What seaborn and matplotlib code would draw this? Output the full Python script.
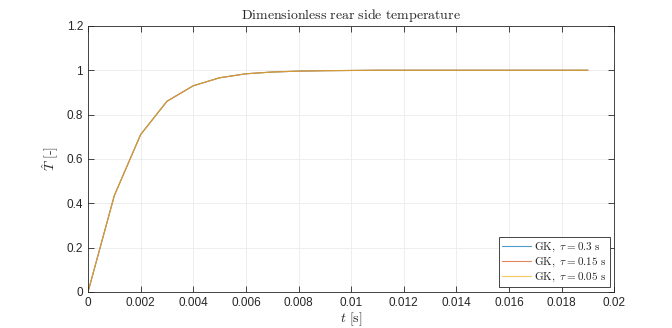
import numpy as np
import pandas as pd
import seaborn as sns
import matplotlib.pyplot as plt

# time samples and dimensionless rear side temperature
t = [0.000, 0.001, 0.002, 0.003, 0.004, 0.005, 0.006, 0.007, 0.008, 0.009,
     0.010, 0.011, 0.012, 0.013, 0.014, 0.015, 0.016, 0.017, 0.018, 0.019]
T_03 = [0.0, 0.435, 0.71, 0.86, 0.93, 0.966, 0.984, 0.992, 0.996, 0.998,
        0.999, 1.0, 1.0, 1.0, 1.0, 1.0, 1.0, 1.0, 1.0, 1.0]
T_015 = [0.0, 0.435, 0.71, 0.86, 0.93, 0.966, 0.984, 0.992, 0.996, 0.998,
         0.999, 1.0, 1.0, 1.0, 1.0, 1.0, 1.0, 1.0, 1.0, 1.0]
T_005 = [0.0, 0.435, 0.71, 0.86, 0.93, 0.966, 0.984, 0.992, 0.996, 0.998,
         0.999, 1.0, 1.0, 1.0, 1.0, 1.0, 1.0, 1.0, 1.0, 1.0]
labels = [r'GK, $\tau$ = 0.3 s', r'GK, $\tau$ = 0.15 s', r'GK, $\tau$ = 0.05 s']

df = pd.concat([
    pd.DataFrame({'t': t, 'T': T_03, 'case': labels[0]}),
    pd.DataFrame({'t': t, 'T': T_015, 'case': labels[1]}),
    pd.DataFrame({'t': t, 'T': T_005, 'case': labels[2]}),
])

# matlab default colors
colors = ['#0072BD', '#D95319', '#EDB120']

sns.set_style('white')
plt.rcParams['mathtext.fontset'] = 'cm'
plt.rcParams['font.family'] = ['Liberation Sans', 'DejaVu Sans']

fig = plt.figure(figsize=(6.72, 3.28), dpi=100)
ax = fig.add_axes([0.131, 0.110, 0.783, 0.811])

sns.lineplot(data=df, x='t', y='T', hue='case', palette=colors,
             linewidth=0.8, alpha=0.7, ax=ax)

# axis limits and ticks
ax.set_xlim(0, 0.02)
ax.set_ylim(0, 1.2)
ax.set_xticks(np.arange(0, 0.0201, 0.002))
ax.set_yticks(np.arange(0, 1.21, 0.2))
ax.set_xticklabels(['0'] + ['%g' % v for v in np.arange(0.002, 0.0201, 0.002)])
ax.set_yticklabels(['0', '0.2', '0.4', '0.6', '0.8', '1', '1.2'])
ax.tick_params(axis='both', direction='in', labelsize=8.5, length=4, width=0.6,
               colors='#262626', top=True, right=True, bottom=True, left=True)
ax.grid(True, color='#ebebeb', linewidth=0.6)
for s in ax.spines.values():
    s.set_color('#262626')
    s.set_linewidth(0.6)

ax.set_title(r'$\mathrm{Dimensionless\ rear\ side\ temperature}$', fontsize=10, pad=5)
ax.set_xlabel(r'$t\ \mathrm{[s]}$', fontsize=10, labelpad=1)
ax.set_ylabel(r'$\hat{T}\ \mathrm{[\text{-}]}$', fontsize=10, labelpad=4)

# legend
handles, _ = ax.get_legend_handles_labels()
leg_labels = [r'$\mathrm{GK,}\ \tau = 0.3\ \mathrm{s}$',
              r'$\mathrm{GK,}\ \tau = 0.15\ \mathrm{s}$',
              r'$\mathrm{GK,}\ \tau = 0.05\ \mathrm{s}$']
leg = ax.legend(handles, leg_labels, loc='lower right', fontsize=8, fancybox=False,
                framealpha=1, edgecolor='#262626', handlelength=2.6,
                handletextpad=0.3, borderpad=0.3, labelspacing=0.15,
                borderaxespad=0.4)
leg.get_frame().set_linewidth(0.6)

fig.savefig('out.png', dpi=100)
